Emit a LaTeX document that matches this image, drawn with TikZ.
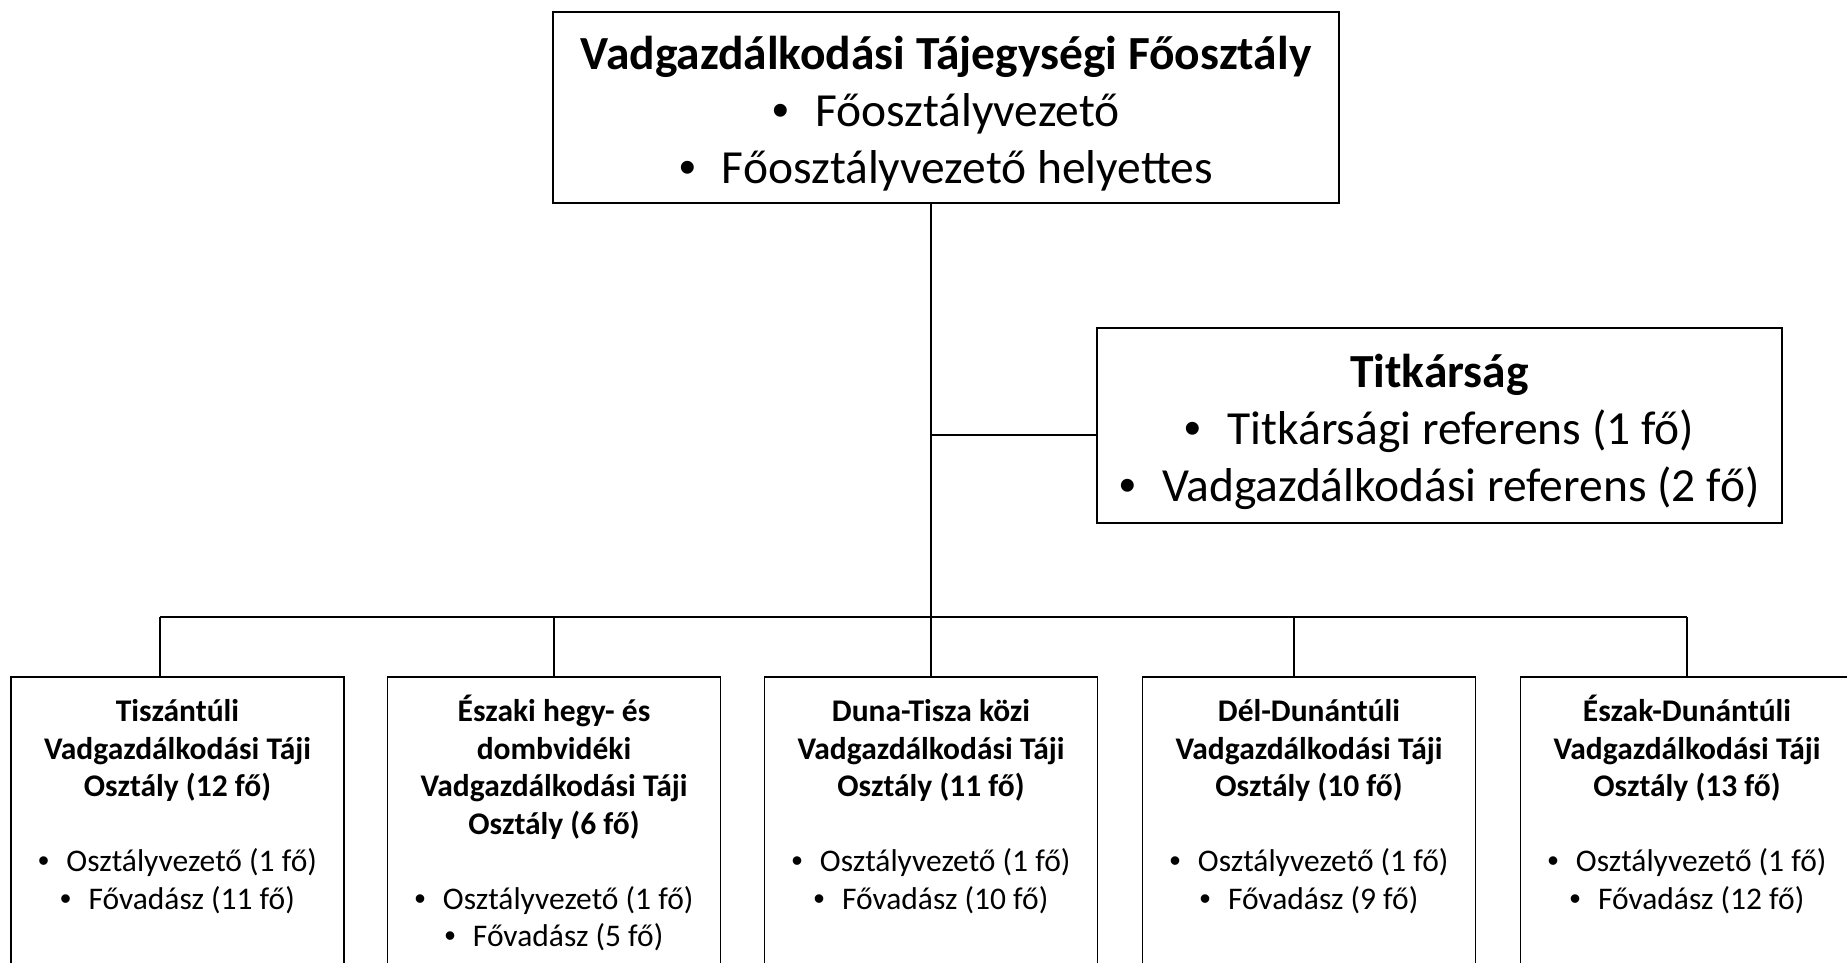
\documentclass[tikz,border=0pt]{standalone}
\usepackage{fontspec}
\setmainfont{Carlito}
\newfontfamily\bulfont{Liberation Sans}
\newcommand{\bul}{{\bulfont •}\hspace{0.55em}}
\tikzset{
  box/.style={draw=black, line width=1.5pt, inner sep=0pt, rectangle},
  big/.style={font=\fontsize{47.5}{57}\selectfont, align=center, inner sep=0pt},
  dept/.style={draw=black, line width=1.5pt, inner sep=0pt, rectangle, anchor=north},
  conn/.style={draw=black, line width=1.5pt},
}
\newcommand{\dtext}[1]{\parbox[t][320pt][t]{333pt}{\centering\fontsize{31.5}{37.5}\selectfont\rule{0pt}{45pt}#1}}
\begin{document}
\begin{tikzpicture}[x=1pt,y=-1pt]
\useasboundingbox (0,0) rectangle (1847,963);
\clip (0,0) rectangle (1847,963);
\fill[white] (0,0) rectangle (1847,963);

\node[box, minimum width=786pt, minimum height=191pt] (top) at (946,107.5) {};
\node[big] (toptext) at ([yshift=-6pt]top.center)
  {\textbf{Vadgazdálkodási Tájegységi Főosztály}\\ \bul Főosztályvezető\\ \bul Főosztályvezető helyettes};

\node[box, minimum width=685pt, minimum height=195pt] (titk) at (1439.5,425.5) {};
\node[big] (titktext) at ([yshift=-6pt]titk.center)
  {\textbf{Titkárság}\\ \bul Titkársági referens (1 fő)\\ \bul Vadgazdálkodási referens (2 fő)};

\node[dept] (d1) at (177.5,676) {\dtext{\textbf{Tiszántúli}\\ \textbf{Vadgazdálkodási Táji}\\ \textbf{Osztály (12 fő)}\\[37.5pt] \bul Osztályvezető (1 fő)\\ \bul Fővadász (11 fő)}};
\node[dept] (d2) at (554,676) {\dtext{\textbf{Északi hegy- és}\\ \textbf{dombvidéki}\\ \textbf{Vadgazdálkodási Táji}\\ \textbf{Osztály (6 fő)}\\[37.5pt] \bul Osztályvezető (1 fő)\\ \bul Fővadász (5 fő)}};
\node[dept] (d3) at (931,676) {\dtext{\textbf{Duna-Tisza közi}\\ \textbf{Vadgazdálkodási Táji}\\ \textbf{Osztály (11 fő)}\\[37.5pt] \bul Osztályvezető (1 fő)\\ \bul Fővadász (10 fő)}};
\node[dept] (d4) at (1309,676) {\dtext{\textbf{Dél-Dunántúli}\\ \textbf{Vadgazdálkodási Táji}\\ \textbf{Osztály (10 fő)}\\[37.5pt] \bul Osztályvezető (1 fő)\\ \bul Fővadász (9 fő)}};
\node[dept] (d5) at (1687,676) {\dtext{\textbf{Észak-Dunántúli}\\ \textbf{Vadgazdálkodási Táji}\\ \textbf{Osztály (13 fő)}\\[37.5pt] \bul Osztályvezető (1 fő)\\ \bul Fővadász (12 fő)}};

\coordinate (stem) at (931,617);
\coordinate (side) at (931,435);
\coordinate (b1) at (160,617);
\coordinate (b2) at (554,617);
\coordinate (b4) at (1294,617);
\coordinate (b5) at (1687,617);

\draw[conn] (top.south -| stem) -- (stem);
\draw[conn] (side) -- (side -| titk.west);
\draw[conn] (b1) -- (b5);
\draw[conn] (b1) -- (b1 |- d1.north);
\draw[conn] (b2) -- (b2 |- d2.north);
\draw[conn] (stem) -- (stem |- d3.north);
\draw[conn] (b4) -- (b4 |- d4.north);
\draw[conn] (b5) -- (b5 |- d5.north);
\end{tikzpicture}
\end{document}
